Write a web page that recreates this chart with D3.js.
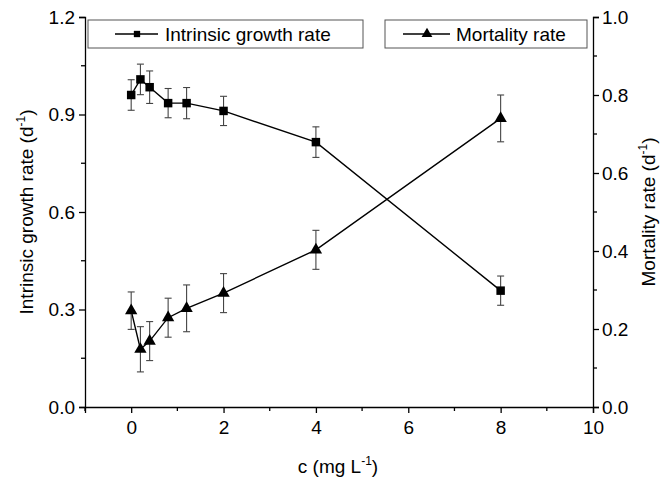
<!DOCTYPE html>
<html>
<head>
<meta charset="utf-8">
<script src="https://cdn.jsdelivr.net/npm/d3@7"></script>
<style>
  html, body { margin: 0; padding: 0; background: #fff; }
  svg { display: block; font-family: "Liberation Sans", Arial, sans-serif; }
</style>
</head>
<body>
<svg id="chart" width="669" height="481"></svg>
<script>
// ---- data ----
const concentrations = [0, 0.2, 0.4, 0.8, 1.2, 2, 4, 8];
const growthRate = [0.96, 1.008, 0.984, 0.935, 0.935, 0.911, 0.815, 0.358];
const growthErr = [0.047, 0.047, 0.05, 0.045, 0.048, 0.045, 0.047, 0.045];
const mortalityRate = [0.247, 0.148, 0.169, 0.229, 0.253, 0.292, 0.403, 0.740];
const mortalityErr = [0.048, 0.058, 0.05, 0.05, 0.06, 0.05, 0.05, 0.06];
const xTicks = [0, 2, 4, 6, 8, 10];
const leftTicks = [0.0, 0.3, 0.6, 0.9, 1.2];
const rightTicks = [0.0, 0.2, 0.4, 0.6, 0.8, 1.0];
const legendLabels = ["Intrinsic growth rate", "Mortality rate"];

// ---- layout ----
const W = 669, H = 481;
const m = { left: 85, right: 76, top: 17, bottom: 74 };
const svg = d3.select("#chart");

const x = d3.scaleLinear().domain([-1, 10]).range([m.left, W - m.right]);
const yL = d3.scaleLinear().domain([0, 1.2]).range([H - m.bottom, m.top]);
const yR = d3.scaleLinear().domain([0, 1.0]).range([H - m.bottom, m.top]);

const fontSize = 19;

function styleAxis(g) {
  g.selectAll("path.domain").attr("stroke", "#000").attr("stroke-width", 1.3);
  g.selectAll(".tick line").attr("stroke", "#000").attr("stroke-width", 1.3);
  g.selectAll(".tick text").attr("font-size", fontSize).attr("fill", "#000")
    .attr("font-family", "Liberation Sans, Arial, sans-serif");
}

// minor ticks
const xMinor = d3.range(-1, 10.01, 1).filter(v => !xTicks.includes(v));
const lMinor = [0.15, 0.45, 0.75, 1.05];
const rMinor = [0.1, 0.3, 0.5, 0.7, 0.9];

// bottom axis
const gx = svg.append("g").attr("transform", `translate(0,${H - m.bottom})`)
  .call(d3.axisBottom(x).tickValues(xTicks).tickFormat(d3.format("d")).tickSizeOuter(0).tickSize(6).tickPadding(8));
styleAxis(gx);
gx.selectAll(".minor").data(xMinor).enter().append("line")
  .attr("x1", d => x(d)).attr("x2", d => x(d)).attr("y1", 0).attr("y2", 4)
  .attr("stroke", "#000").attr("stroke-width", 1.3);

// left axis
const gl = svg.append("g").attr("transform", `translate(${m.left},0)`)
  .call(d3.axisLeft(yL).tickValues(leftTicks).tickFormat(d3.format(".1f")).tickSizeOuter(0).tickSize(6).tickPadding(4));
styleAxis(gl);
gl.selectAll(".minor").data(lMinor).enter().append("line")
  .attr("x1", 0).attr("x2", -4).attr("y1", d => yL(d)).attr("y2", d => yL(d))
  .attr("stroke", "#000").attr("stroke-width", 1.3);

// right axis
const gr = svg.append("g").attr("transform", `translate(${W - m.right},0)`)
  .call(d3.axisRight(yR).tickValues(rightTicks).tickFormat(d3.format(".1f")).tickSizeOuter(0).tickSize(6).tickPadding(3));
styleAxis(gr);
gr.selectAll(".minor").data(rMinor).enter().append("line")
  .attr("x1", 0).attr("x2", 4).attr("y1", d => yR(d)).attr("y2", d => yR(d))
  .attr("stroke", "#000").attr("stroke-width", 1.3);

// axis titles
function titleWithSup(g, base, sup, tail) {
  g.append("tspan").text(base);
  g.append("tspan").text(sup).attr("dy", -8).attr("font-size", 12);
  g.append("tspan").text(tail).attr("dy", 8);
}
const xt = svg.append("text").attr("x", 338).attr("y", 473).attr("text-anchor", "middle")
  .attr("font-size", fontSize).attr("fill", "#000");
titleWithSup(xt, "c (mg L", "-1", ")");

const ylt = svg.append("text").attr("transform", `translate(33,${(m.top + H - m.bottom) / 2}) rotate(-90)`)
  .attr("text-anchor", "middle").attr("font-size", fontSize).attr("fill", "#000");
titleWithSup(ylt, "Intrinsic growth rate (d", "-1", ")");

const yrt = svg.append("text").attr("transform", `translate(655,${(m.top + H - m.bottom) / 2}) rotate(-90)`)
  .attr("text-anchor", "middle").attr("font-size", fontSize).attr("fill", "#000");
titleWithSup(yrt, "Mortality rate (d", "-1", ")");

// series
const growthData = concentrations.map((c, i) => ({ c, v: growthRate[i], e: growthErr[i] }));
const mortData = concentrations.map((c, i) => ({ c, v: mortalityRate[i], e: mortalityErr[i] }));

function drawSeries(data, yScale, symType, symSize) {
  const g = svg.append("g");
  g.append("path").datum(data)
    .attr("d", d3.line().x(d => x(d.c)).y(d => yScale(d.v)))
    .attr("fill", "none").attr("stroke", "#000").attr("stroke-width", 1.4);
  const eb = g.selectAll(".eb").data(data).enter().append("g").attr("stroke", "#444").attr("stroke-width", 1.1);
  eb.append("line").attr("x1", d => x(d.c)).attr("x2", d => x(d.c))
    .attr("y1", d => yScale(d.v + d.e)).attr("y2", d => yScale(d.v - d.e));
  eb.append("line").attr("x1", d => x(d.c) - 3.5).attr("x2", d => x(d.c) + 3.5)
    .attr("y1", d => yScale(d.v + d.e)).attr("y2", d => yScale(d.v + d.e));
  eb.append("line").attr("x1", d => x(d.c) - 3.5).attr("x2", d => x(d.c) + 3.5)
    .attr("y1", d => yScale(d.v - d.e)).attr("y2", d => yScale(d.v - d.e));
  g.selectAll(".mk").data(data).enter().append("path")
    .attr("d", d3.symbol().type(symType).size(symSize))
    .attr("transform", d => `translate(${x(d.c)},${yScale(d.v)})`)
    .attr("fill", "#000");
}
drawSeries(growthData, yL, d3.symbolSquare, 72);
drawSeries(mortData, yR, d3.symbolTriangle, 66);

// legends
const legends = [
  { x0: 88, x1: 363, lineA: 115, lineB: 158, mk: 137, tx: 165, sym: d3.symbolSquare, size: 40, label: legendLabels[0] },
  { x0: 385, x1: 587, lineA: 403, lineB: 450, mk: 427, tx: 456, sym: d3.symbolTriangle, size: 50, label: legendLabels[1] }
];
legends.forEach(l => {
  const g = svg.append("g");
  g.append("rect").attr("x", l.x0).attr("y", 20).attr("width", l.x1 - l.x0).attr("height", 28)
    .attr("fill", "#fff").attr("stroke", "#555").attr("stroke-width", 1);
  g.append("line").attr("x1", l.lineA).attr("x2", l.lineB).attr("y1", 34).attr("y2", 34)
    .attr("stroke", "#000").attr("stroke-width", 1.4);
  g.append("path").attr("d", d3.symbol().type(l.sym).size(l.size)())
    .attr("transform", `translate(${l.mk},34)`).attr("fill", "#000");
  g.append("text").attr("x", l.tx).attr("y", 41).attr("font-size", fontSize).attr("fill", "#000").text(l.label);
});
</script>
</body>
</html>
